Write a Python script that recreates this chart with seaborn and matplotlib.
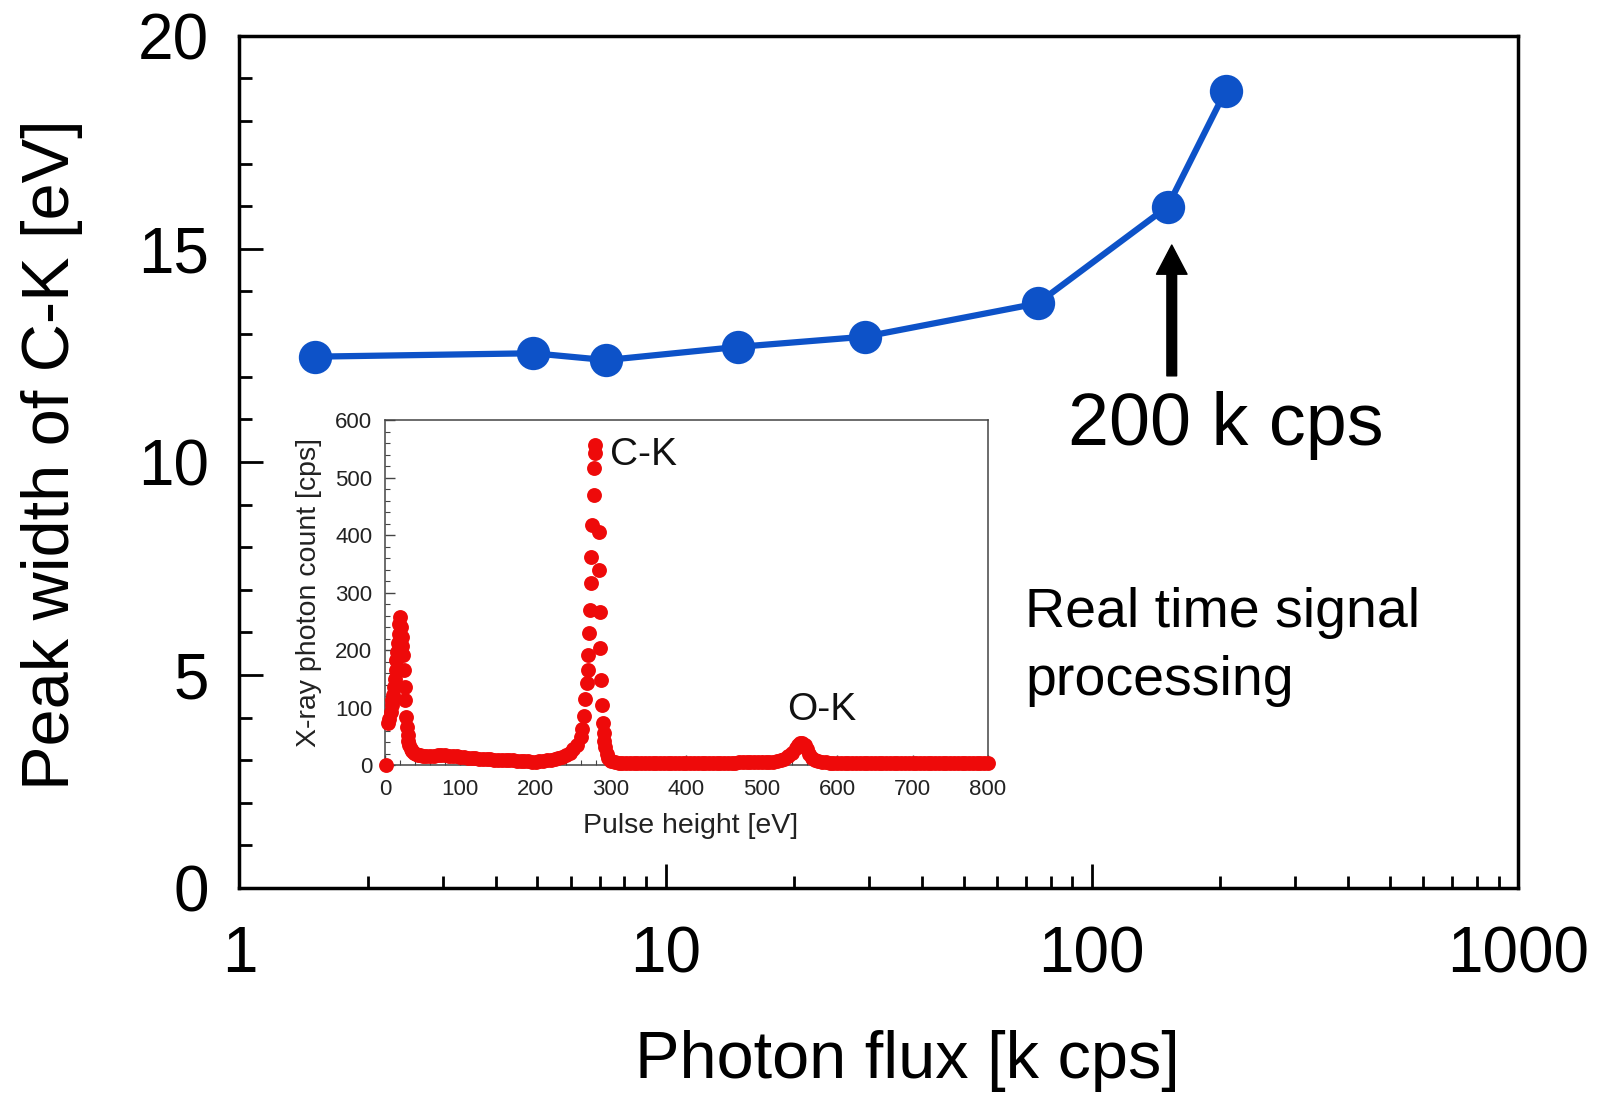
import numpy as np
import pandas as pd
import matplotlib
matplotlib.use("Agg")
import matplotlib.pyplot as plt
from matplotlib.ticker import MultipleLocator, FixedLocator, NullFormatter, LogLocator
import seaborn as sns

# ---- main series: C-K peak width versus incoming photon flux ----
photon_flux_kcps = [1.5, 4.89, 7.25, 14.8, 29.4, 74.6, 150.5, 206]
peak_width_ev = [12.47, 12.55, 12.39, 12.70, 12.94, 13.72, 15.99, 18.71]

x_ticks = [1, 10, 100, 1000]
x_tick_labels = ["1", "10", "100", "1000"]
y_ticks = [0, 5, 10, 15, 20]

# ---- inset spectrum (pulse height in eV, counts in cps) ----
low_peak_ev = [2, 4, 6, 8, 9, 10, 11, 12, 13, 14, 15, 16, 17, 18, 19, 20, 21, 22,
               23, 24, 25, 26, 27, 28, 29, 30, 31, 32, 34, 36, 38, 41, 44, 47]
low_peak_cps = [0, 73, 80, 92, 104, 113, 122, 136, 150, 165, 182, 197, 212, 228, 245,
                258, 241, 223, 208, 191, 165, 136, 113, 84, 66, 52, 42, 35, 28, 24,
                21, 19, 18, 17]

continuum_ev = [50, 55, 60, 65, 70, 75, 80, 85, 90, 95, 100, 105, 110, 115, 120, 125,
                130, 135, 140, 145, 150, 155, 160, 165, 170, 175, 180, 185, 190, 195,
                200, 205, 210, 215, 220, 225, 230, 235, 240, 245, 250, 255, 260]
continuum_cps = [16, 16, 16, 16, 17, 17, 17, 16, 16, 15, 14, 14, 13, 12, 12, 11,
                 11, 10, 10, 9, 9, 9, 8, 8, 8, 7, 7, 7, 7, 6,
                 6, 7, 7, 8, 9, 10, 12, 14, 17, 21, 27, 35, 48]

ck_peak_ev = [262, 264, 266, 268, 269, 270, 271, 272, 273, 274, 275, 277, 278, 278.5,
              279, 283.5, 284, 285, 285.5, 286.5, 288, 289, 290, 291, 292, 294, 296, 298]
ck_peak_cps = [62, 85, 115, 143, 166, 192, 230, 270, 317, 362, 418, 470, 517, 543,
               557, 406, 340, 266, 204, 148, 105, 73, 55, 42, 32, 20, 13, 9]

tail_ev = [300, 305, 310, 315, 320, 325, 330, 335, 340, 345, 350, 355, 360, 365, 370,
           375, 380, 385, 390, 395, 400, 405, 410, 415, 420, 425, 430, 435, 440, 445,
           450, 455, 460, 465, 470, 475, 480, 485, 490, 495, 500, 505, 510, 515, 520,
           525, 530, 535, 540, 545, 548, 551, 554, 557, 560, 563, 566, 570, 575, 580,
           585, 590, 595, 600, 605, 610, 615, 620, 625, 630, 635, 640, 645, 650, 655,
           660, 665, 670, 675, 680, 685, 690, 695, 700, 705, 710, 715, 720, 725, 730,
           735, 740, 745, 750, 755, 760, 765, 770, 775, 780, 785, 790, 795, 800]
tail_cps = [7, 5, 4, 4, 4, 4, 4, 4, 4, 4, 4, 4, 4, 4, 4,
            4, 4, 4, 4, 4, 4, 4, 4, 4, 4, 4, 4, 4, 4, 4,
            4, 4, 4, 4, 5, 5, 5, 5, 5, 5, 5, 5, 6, 6, 7,
            9, 11, 15, 21, 29, 34, 38, 38, 34, 27, 19, 13, 9, 7, 6,
            5, 4, 4, 4, 4, 4, 4, 4, 4, 4, 4, 4, 4, 4, 4,
            4, 4, 4, 4, 4, 4, 4, 4, 4, 4, 4, 4, 4, 4, 4,
            4, 4, 4, 4, 4, 4, 4, 4, 4, 4, 4, 4, 4, 4]

inset_x_ticks = [0, 100, 200, 300, 400, 500, 600, 700, 800]
inset_y_ticks = [0, 100, 200, 300, 400, 500, 600]

BLUE = "#0d52c8"
RED = "#ee0a0a"

sns.set_theme(style="ticks")
plt.rcParams["font.family"] = ["Liberation Sans", "DejaVu Sans"]

fig = plt.figure(figsize=(16.04, 10.93), dpi=100)
fig.patch.set_facecolor("white")

# ---------------- main axes ----------------
ax = fig.add_axes([0.1493, 0.1876, 0.7971, 0.7796])
main_df = pd.DataFrame({"flux": photon_flux_kcps, "width": peak_width_ev})
sns.lineplot(data=main_df, x="flux", y="width", ax=ax, color=BLUE, lw=4.5,
             marker="o", markersize=24, markeredgecolor=BLUE, markeredgewidth=0,
             estimator=None, sort=False, zorder=3)
ax.set_xscale("log")
ax.set_xlim(1, 1000)
ax.set_ylim(0, 20)

ax.xaxis.set_major_locator(FixedLocator(x_ticks))
ax.set_xticklabels(x_tick_labels)
ax.xaxis.set_minor_locator(LogLocator(base=10, subs=np.arange(2, 10)))
ax.xaxis.set_minor_formatter(NullFormatter())
ax.yaxis.set_major_locator(FixedLocator(y_ticks))
ax.yaxis.set_minor_locator(MultipleLocator(1))

for sp in ax.spines.values():
    sp.set_linewidth(2.5)
    sp.set_color("black")
    sp.set_visible(True)

ax.tick_params(axis="both", which="both", direction="in", colors="black",
               top=False, right=False)
ax.tick_params(axis="both", which="major", length=17, width=2)
ax.tick_params(axis="both", which="minor", length=9, width=2)
ax.tick_params(axis="x", which="major", labelsize=46, pad=27)
ax.tick_params(axis="y", which="major", labelsize=46, pad=22)

ax.set_xlabel("Photon flux [k cps]", fontsize=48, color="black")
ax.set_ylabel("Peak width of C-K [eV]", fontsize=48, color="black")
ax.xaxis.set_label_coords(0.522, -0.167)
ax.yaxis.set_label_coords(-0.122, 0.508)

# arrow marking the count rate of interest
ax.annotate("", xy=(154, 15.09), xytext=(154, 12.02),
            arrowprops=dict(facecolor="black", edgecolor="black", width=7,
                            headwidth=22, headlength=21, shrink=0))
ax.text(206, 10.40, "200 k cps", fontsize=53, ha="center", va="baseline",
        color="black")
ax.text(69.7, 6.13, "Real time signal", fontsize=40, ha="left", va="baseline",
        color="black")
ax.text(69.7, 4.53, "processing", fontsize=40, ha="left", va="baseline",
        color="black")

# ---------------- inset spectrum ----------------
ins = fig.add_axes([0.2400, 0.3001, 0.3759, 0.3152])
spec_df = pd.DataFrame({
    "energy": low_peak_ev + continuum_ev + ck_peak_ev + tail_ev,
    "counts": low_peak_cps + continuum_cps + ck_peak_cps + tail_cps,
})
sns.scatterplot(data=spec_df, x="energy", y="counts", ax=ins, color=RED, s=115,
                linewidth=0, clip_on=False, zorder=3)
ins.set_xlim(0, 800)
ins.set_ylim(0, 600)
ins.xaxis.set_major_locator(FixedLocator(inset_x_ticks))
ins.yaxis.set_major_locator(FixedLocator(inset_y_ticks))
ins.xaxis.set_minor_locator(MultipleLocator(20))
ins.yaxis.set_minor_locator(MultipleLocator(20))
for sp in ins.spines.values():
    sp.set_visible(True)
    sp.set_linewidth(1.1)
    sp.set_color("#444444")
ins.tick_params(axis="both", which="both", direction="in", colors="#444444",
                labelcolor="#222222", top=False, right=False)
ins.tick_params(axis="both", which="major", length=7, width=1, labelsize=16)
ins.tick_params(axis="both", which="minor", length=3.5, width=0.8)
ins.tick_params(axis="x", which="major", pad=10)
ins.tick_params(axis="y", which="major", pad=9)
ins.set_xlabel("Pulse height [eV]", fontsize=20.5, color="#222222")
ins.set_ylabel("X-ray photon count [cps]", fontsize=20.5, color="#222222")
ins.xaxis.set_label_coords(0.507, -0.14)
ins.yaxis.set_label_coords(-0.105, 0.5)
ins.text(299, 540, "C-K", fontsize=28, ha="left", va="center", color="#111111")
ins.text(580, 96, "O-K", fontsize=28, ha="center", va="center", color="#111111")

fig.savefig("out.png", dpi=100)
